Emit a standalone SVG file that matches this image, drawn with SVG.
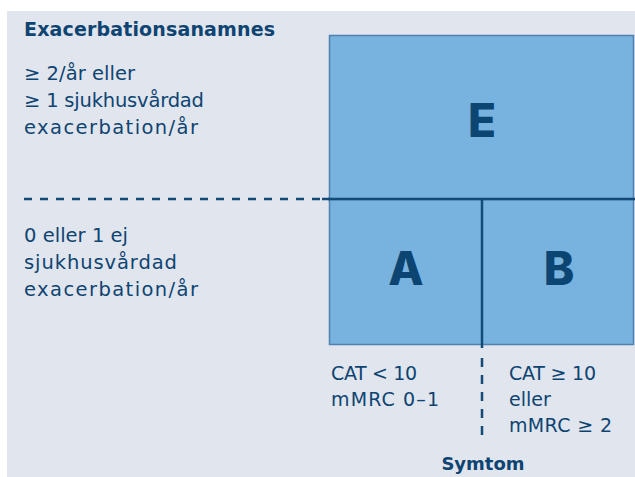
<svg xmlns="http://www.w3.org/2000/svg" width="635" height="477" viewBox="0 0 635 477">
  <style>
    .txt { font-family: "DejaVu Sans", "Noto Sans", "Liberation Sans", sans-serif; fill: #0e4471; }
    .body { font-size: 19.5px; }
    .low { font-size: 19px; }
    .head { font-size: 19px; font-weight: 700; }
    .big { font-family: Inter, "DejaVu Sans", sans-serif; font-size: 46px; font-weight: 800; text-anchor: middle; fill: #0c4472; }
    .cell { fill: #78b2de; stroke: #4f82b0; stroke-width: 1.5; }
    .solid { stroke: #134a78; stroke-width: 2.5; fill: none; }
    .dash { stroke: #134a78; stroke-width: 2.5; fill: none; }
  </style>

  <!-- page background -->
  <rect x="0" y="0" width="635" height="477" fill="#ffffff"/>
  <rect x="7" y="11" width="628" height="466" fill="#e1e5ee"/>

  <!-- axis labels -->
  <g id="axis-exacerbation">
    <text class="txt head" x="24" y="36" textLength="251" lengthAdjust="spacing">Exacerbationsanamnes</text>
    <text class="txt body" x="24" y="80" textLength="111" lengthAdjust="spacing">≥ 2/år eller</text>
    <text class="txt body" x="24" y="107" textLength="180" lengthAdjust="spacing">≥ 1 sjukhusvårdad</text>
    <text class="txt body" x="24" y="134" textLength="174" lengthAdjust="spacing">exacerbation/år</text>
    <text class="txt body" x="24" y="242" textLength="104" lengthAdjust="spacing">0 eller 1 ej</text>
    <text class="txt body" x="24" y="269" textLength="153" lengthAdjust="spacing">sjukhusvårdad</text>
    <text class="txt body" x="24" y="296" textLength="174" lengthAdjust="spacing">exacerbation/år</text>
  </g>

  <!-- group cells -->
  <g id="group-E">
    <rect class="cell" x="329.5" y="35.5" width="304" height="164"/>
    <text class="big" x="482" y="137">E</text>
  </g>
  <g id="group-A">
    <rect class="cell" x="329.5" y="199.5" width="152.5" height="145"/>
    <text class="big" x="406" y="285">A</text>
  </g>
  <g id="group-B">
    <rect class="cell" x="482" y="199.5" width="151.5" height="145"/>
    <text class="big" x="559" y="285">B</text>
  </g>

  <!-- dividing lines -->
  <g id="connectors">
    <line class="dash" x1="24" y1="199" x2="330" y2="199" stroke-dasharray="8 8"/>
    <line class="solid" x1="322" y1="199" x2="635" y2="199"/>
    <line class="solid" x1="482" y1="199" x2="482" y2="348"/>
    <line class="dash" x1="482" y1="358" x2="482" y2="436" stroke-dasharray="9 8"/>
  </g>

  <!-- symptom labels -->
  <g id="axis-symptom">
    <text class="txt low" x="331" y="380" textLength="86" lengthAdjust="spacing">CAT &lt; 10</text>
    <text class="txt low" x="331" y="406" textLength="108" lengthAdjust="spacing">mMRC 0–1</text>
    <text class="txt low" x="509" y="380" textLength="87" lengthAdjust="spacing">CAT ≥ 10</text>
    <text class="txt low" x="509" y="406">eller</text>
    <text class="txt low" x="509" y="432" textLength="103" lengthAdjust="spacing">mMRC ≥ 2</text>
    <text class="txt head" x="483" y="470" text-anchor="middle" style="font-size:18px">Symtom</text>
  </g>
</svg>
